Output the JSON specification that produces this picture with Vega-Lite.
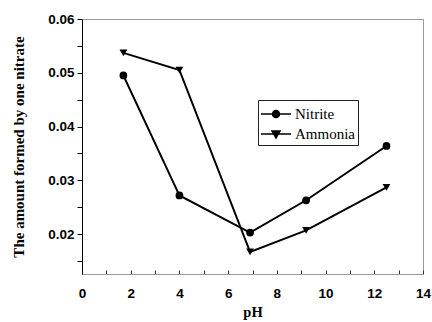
{
  "$schema": "https://vega.github.io/schema/vega-lite/v6.json",
  "width": 341,
  "height": 255,
  "autosize": "none",
  "padding": {"left": 82, "top": 19, "right": 9, "bottom": 48},
  "background": "white",
  "config": {
    "view": {"stroke": "#9a9a9a", "strokeWidth": 1},
    "axis": {"grid": false}
  },
  "data": {
    "values": [
      {"series": "Nitrite", "pH": 1.7, "v": 0.0495},
      {"series": "Nitrite", "pH": 4.0, "v": 0.0272},
      {"series": "Nitrite", "pH": 6.9, "v": 0.0203},
      {"series": "Nitrite", "pH": 9.2, "v": 0.0263},
      {"series": "Nitrite", "pH": 12.5, "v": 0.0364},
      {"series": "Ammonia", "pH": 1.7, "v": 0.0537},
      {"series": "Ammonia", "pH": 4.0, "v": 0.0505},
      {"series": "Ammonia", "pH": 6.9, "v": 0.0167},
      {"series": "Ammonia", "pH": 9.2, "v": 0.0207},
      {"series": "Ammonia", "pH": 12.5, "v": 0.0287}
    ]
  },
  "encoding": {
    "x": {
      "field": "pH", "type": "quantitative",
      "scale": {"domain": [0, 14], "nice": false, "zero": false},
      "axis": {
        "title": "pH",
        "values": [0,1,2,3,4,5,6,7,8,9,10,11,12,13,14],
        "labelExpr": "datum.value % 2 == 0 ? datum.label : ''",
        "labelFont": "Liberation Sans", "labelFontWeight": "bold", "labelFontSize": 13.5, "labelColor": "black",
        "labelPadding": 16,
        "labelFlush": false,
        "tickSize": -4, "tickColor": "#333", "tickWidth": 1,
        "domainColor": "#9a9a9a",
        "titleFont": "Liberation Serif", "titleFontWeight": "bold", "titleFontSize": 14.5, "titleColor": "black",
        "titlePadding": 6
      }
    },
    "y": {
      "field": "v", "type": "quantitative",
      "scale": {"domain": [0.0126, 0.06], "nice": false, "zero": false},
      "axis": {
        "title": "The amount  formed by one nitrate",
        "values": [0.015,0.02,0.025,0.03,0.035,0.04,0.045,0.05,0.055,0.06],
        "labelExpr": "round(datum.value * 1000) % 10 == 0 ? format(datum.value, '.2f') : ''",
        "labelFont": "Liberation Sans", "labelFontWeight": "bold", "labelFontSize": 13.5, "labelColor": "black",
        "labelPadding": 3,
        "labelFlush": false,
        "tickSize": 5, "tickColor": "black", "tickWidth": 1,
        "domainColor": "black",
        "titleFont": "Liberation Serif", "titleFontWeight": "bold", "titleFontSize": 15, "titleColor": "black",
        "titlePadding": 21
      }
    }
  },
  "layer": [
    {
      "mark": {"type": "line", "strokeWidth": 1.9},
      "encoding": {
        "detail": {"field": "series"},
        "color": {
          "field": "series", "type": "nominal",
          "scale": {"domain": ["Nitrite", "Ammonia"], "range": ["black", "black"]},
          "legend": {
            "title": null,
            "orient": "none",
            "legendX": 176,
            "legendY": 81,
            "padding": 3,
            "strokeColor": "#222",
            "fillColor": "white",
            "symbolSize": 400,
            "rowPadding": 1,
            "labelFont": "Liberation Serif", "labelFontSize": 15, "labelColor": "black",
            "labelOffset": 12,
            "encode": {
              "symbols": {
                "update": {
                  "shape": {"signal": "datum.value === 'Nitrite' ? 'M-1.1,0H1.9M0.75,0A0.35,0.35,0,1,1,0.05,0A0.35,0.35,0,1,1,0.75,0Z' : 'M-1.1,0H1.9M0,-0.3L0.8,-0.3L0.4,0.4Z'"},
                  "size": {"value": 400},
                  "fill": {"value": "black"},
                  "stroke": {"value": "black"},
                  "strokeWidth": {"value": 1.5},
                  "opacity": {"value": 1}
                }
              }
            }
          }
        }
      }
    },
    {
      "transform": [{"filter": "datum.series === 'Nitrite'"}],
      "mark": {"type": "point", "shape": "circle", "filled": true, "color": "black", "opacity": 1, "size": 60}
    },
    {
      "transform": [{"filter": "datum.series === 'Ammonia'"}],
      "mark": {"type": "point", "shape": "triangle-down", "filled": true, "color": "black", "opacity": 1, "size": 60}
    }
  ]
}
